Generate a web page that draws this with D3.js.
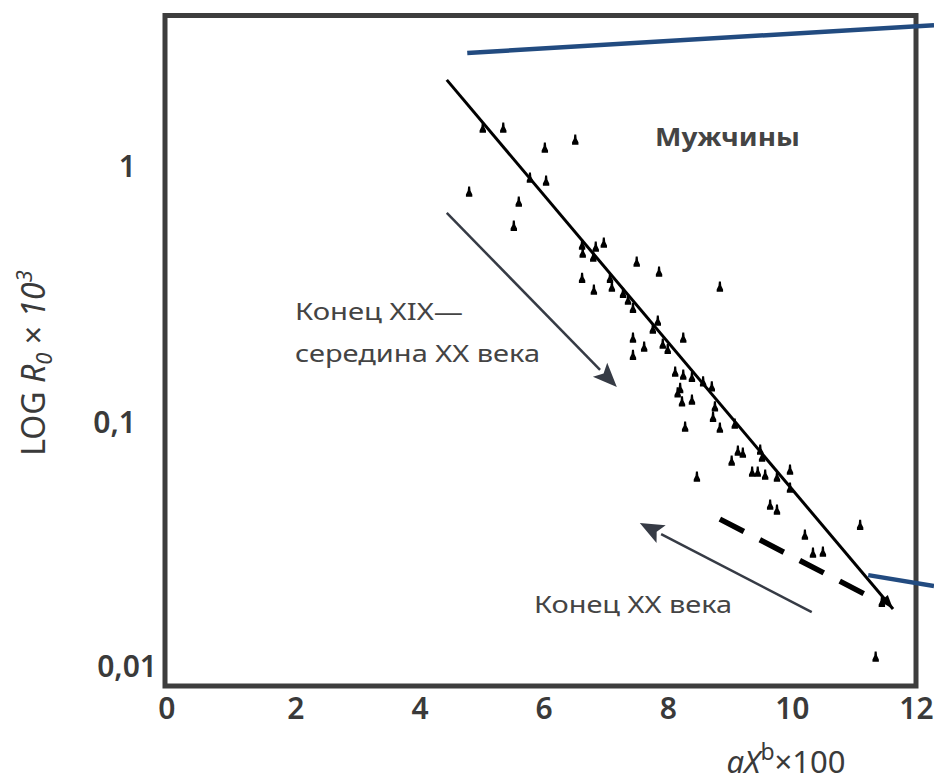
<!DOCTYPE html>
<html><head><meta charset="utf-8">
<script src="https://cdn.jsdelivr.net/npm/d3@7"></script>
<style>
html,body{margin:0;padding:0;background:#fff;}
svg text{font-family:"Noto Sans","Open Sans",sans-serif;}
</style></head>
<body>
<svg id="chart" width="934" height="783"></svg>
<script>
// ---- data ----
const xTicks = [0, 2, 4, 6, 8, 10, 12];
const yTicks = [1, 0.1, 0.01];
const yTickLabels = ["1", "0,1", "0,01"];

// scatter points (aX^b*100, R0*10^3)
const pointX = [4.80,5.02,5.35,6.02,6.51,5.78,6.04,5.60,5.52,6.62,6.63,6.84,6.97,6.80,7.50,7.86,8.84,6.62,6.81,7.07,7.10,7.28,7.36,7.44,7.84,7.76,7.44,7.62,7.44,8.25,7.92,8.00,8.12,8.25,8.39,8.57,8.71,8.20,8.16,8.23,8.39,8.76,8.73,8.28,8.84,9.08,9.13,9.21,9.49,9.52,9.03,9.97,9.36,9.45,9.57,9.76,8.47,9.65,9.76,11.10,10.21,10.34,10.50,11.45,11.35,9.97];
const pointY = [0.787,1.419,1.419,1.180,1.271,0.895,0.871,0.718,0.575,0.483,0.449,0.474,0.492,0.433,0.413,0.377,0.328,0.356,0.319,0.356,0.328,0.310,0.291,0.270,0.240,0.223,0.205,0.189,0.175,0.205,0.194,0.185,0.150,0.146,0.143,0.137,0.131,0.129,0.124,0.114,0.116,0.109,0.099,0.0904,0.0895,0.0929,0.0724,0.0711,0.0731,0.0686,0.0661,0.0608,0.0597,0.0597,0.0581,0.0570,0.0570,0.0441,0.0421,0.0366,0.0334,0.0283,0.0286,0.0180,0.01086,0.0515];

// trend line: end XIX – mid XX century
const trendX = [4.44, 11.63];
const trendY = [2.21, 0.0169];
// dashed trend: end of XX century
const dashX = [8.84, 11.26];
const dashY = [0.0387, 0.0189];

// annotation arrows [x0,y0,x1,y1] in data units
const arrow1 = [4.44, 0.649, 7.18, 0.1306];
const arrow2 = [10.32, 0.01644, 7.55, 0.0373];
// blue callout lines
const blueTop = [4.77, 2.83, 12.29, 3.66];
const blueBottom = [11.23, 0.0231, 12.29, 0.0209];

// ---- chart ----
const svg = d3.select("#chart");
const mLeft = 165, mRight = 916, mTop = 15.5, mBottom = 686;
const x = d3.scaleLinear().domain([-0.1, 12]).range([mLeft, mRight]);
const y = d3.scaleLog().domain([Math.pow(10, -2.08), Math.pow(10, 0.602)]).range([mBottom, mTop]);

const textColor = "#3a3a3a";

// x axis tick labels
const xAxis = d3.axisBottom(x).tickValues(xTicks).tickSize(0).tickPadding(0).tickFormat(d3.format("d"));
const gx = svg.append("g").attr("transform", `translate(0,${mBottom})`).call(xAxis);
gx.select(".domain").remove();
gx.selectAll("text").attr("y", 33).attr("dy", 0).attr("fill", textColor)
  .style("font-size", "30px").style("font-weight", "600");
gx.selectAll(".tick").filter(d => d === 0).select("text").attr("x", -5);

// y axis tick labels
const yAxis = d3.axisLeft(y).tickValues(yTicks).tickSize(0).tickPadding(0)
  .tickFormat((d, i) => yTickLabels[i]);
const gy = svg.append("g").attr("transform", `translate(${mLeft},0)`).call(yAxis);
gy.select(".domain").remove();
gy.selectAll("text").attr("dy", "0.36em").attr("fill", textColor)
  .style("font-size", "30px").style("font-weight", "600")
  .attr("x", d => d === 0.01 ? -8 : -29)
  .attr("y", d => d === 0.1 ? 6 : 0);

// frame
svg.append("rect").attr("x", mLeft).attr("y", mTop)
  .attr("width", mRight - mLeft).attr("height", mBottom - mTop)
  .attr("fill", "none").attr("stroke", "#3d3d3d").attr("stroke-width", 5);

const line = d3.line().x(d => x(d[0])).y(d => y(d[1]));

// trend line
svg.append("path").datum(trendX.map((v, i) => [v, trendY[i]]))
  .attr("d", line).attr("fill", "none").attr("stroke", "#000").attr("stroke-width", 3);

// dashed line
svg.append("path").datum(dashX.map((v, i) => [v, dashY[i]]))
  .attr("d", line).attr("fill", "none").attr("stroke", "#000")
  .attr("stroke-width", 5.5).attr("stroke-dasharray", "27,18");

// points
const marker = "M-1,-5.5 L1,-5.5 L1.4,-1.2 L3.2,2.4 L3.2,4.8 L-3.2,4.8 L-3.2,2.4 L-1.4,-1.2 Z";
svg.append("g").selectAll("path").data(pointX.map((v, i) => [v, pointY[i]]))
  .join("path")
  .attr("transform", d => `translate(${x(d[0])},${y(d[1])})`)
  .attr("d", marker).attr("fill", "#000");

// arrowhead at end of trend line
(function(){
  const p0 = [x(trendX[0]), y(trendY[0])], p1 = [x(trendX[1]), y(trendY[1])];
  const ang = Math.atan2(p1[1]-p0[1], p1[0]-p0[0]);
  const L = 14, W = 5;
  const bx = p1[0] - L*Math.cos(ang), by = p1[1] - L*Math.sin(ang);
  svg.append("path").attr("d",
    `M${p1[0]},${p1[1]} L${bx + W*Math.sin(ang)},${by - W*Math.cos(ang)} L${bx - W*Math.sin(ang)},${by + W*Math.cos(ang)} Z`)
    .attr("fill", "#000");
})();

// annotation arrows
function drawArrow(a, color) {
  const p0 = [x(a[0]), y(a[1])], p1 = [x(a[2]), y(a[3])];
  const ang = Math.atan2(p1[1]-p0[1], p1[0]-p0[0]);
  const L = 24, W = 10;
  const bx = p1[0] - L*Math.cos(ang), by = p1[1] - L*Math.sin(ang);
  svg.append("line").attr("x1", p0[0]).attr("y1", p0[1]).attr("x2", bx).attr("y2", by)
    .attr("stroke", color).attr("stroke-width", 2.5);
  svg.append("path").attr("d",
    `M${p1[0]},${p1[1]} L${bx + W*Math.sin(ang)},${by - W*Math.cos(ang)} L${bx + 5*Math.cos(ang)},${by + 5*Math.sin(ang)} L${bx - W*Math.sin(ang)},${by + W*Math.cos(ang)} Z`)
    .attr("fill", color);
}
drawArrow(arrow1, "#363b45");
drawArrow(arrow2, "#363b45");

// blue callout lines
[blueTop, blueBottom].forEach(b => {
  svg.append("line").attr("x1", x(b[0])).attr("y1", y(b[1])).attr("x2", x(b[2])).attr("y2", y(b[3]))
    .attr("stroke", "#224b80").attr("stroke-width", 4.5);
});

// annotation texts
svg.append("text").attr("x", 655).attr("y", 146).text("Мужчины")
  .attr("fill", "#444").style("font-size", "25px").style("font-weight", "bold")
  .attr("textLength", 145).attr("lengthAdjust", "spacingAndGlyphs");
svg.append("text").attr("x", 295).attr("y", 320).text("Конец XIX—")
  .attr("fill", "#444").style("font-size", "23px")
  .attr("textLength", 168).attr("lengthAdjust", "spacingAndGlyphs");
svg.append("text").attr("x", 295).attr("y", 362).text("середина XX века")
  .attr("fill", "#444").style("font-size", "23px")
  .attr("textLength", 245).attr("lengthAdjust", "spacingAndGlyphs");
svg.append("text").attr("x", 534).attr("y", 613).text("Конец XX века")
  .attr("fill", "#444").style("font-size", "23px")
  .attr("textLength", 198).attr("lengthAdjust", "spacingAndGlyphs");

// axis titles
const yt = svg.append("text").attr("transform", "translate(45,363) rotate(-90)")
  .attr("text-anchor", "middle").attr("fill", textColor).style("font-size", "32px");
yt.append("tspan").text("LOG ");
yt.append("tspan").text("R").style("font-style", "italic");
yt.append("tspan").text("0").style("font-style", "italic").style("font-size", "22px").attr("dy", 7);
yt.append("tspan").text(" × ").attr("dy", -7);
yt.append("tspan").text("10").style("font-style", "italic");
yt.append("tspan").text("3").style("font-style", "italic").style("font-size", "22px").attr("dy", -13);

const xt = svg.append("text").attr("x", 786).attr("y", 773)
  .attr("text-anchor", "middle").attr("fill", textColor).style("font-size", "31px");
xt.append("tspan").text("aX").style("font-style", "italic");
xt.append("tspan").text("b").style("font-size", "23px").attr("dy", -13);
xt.append("tspan").text("×100").attr("dy", 13);
</script>
</body></html>
